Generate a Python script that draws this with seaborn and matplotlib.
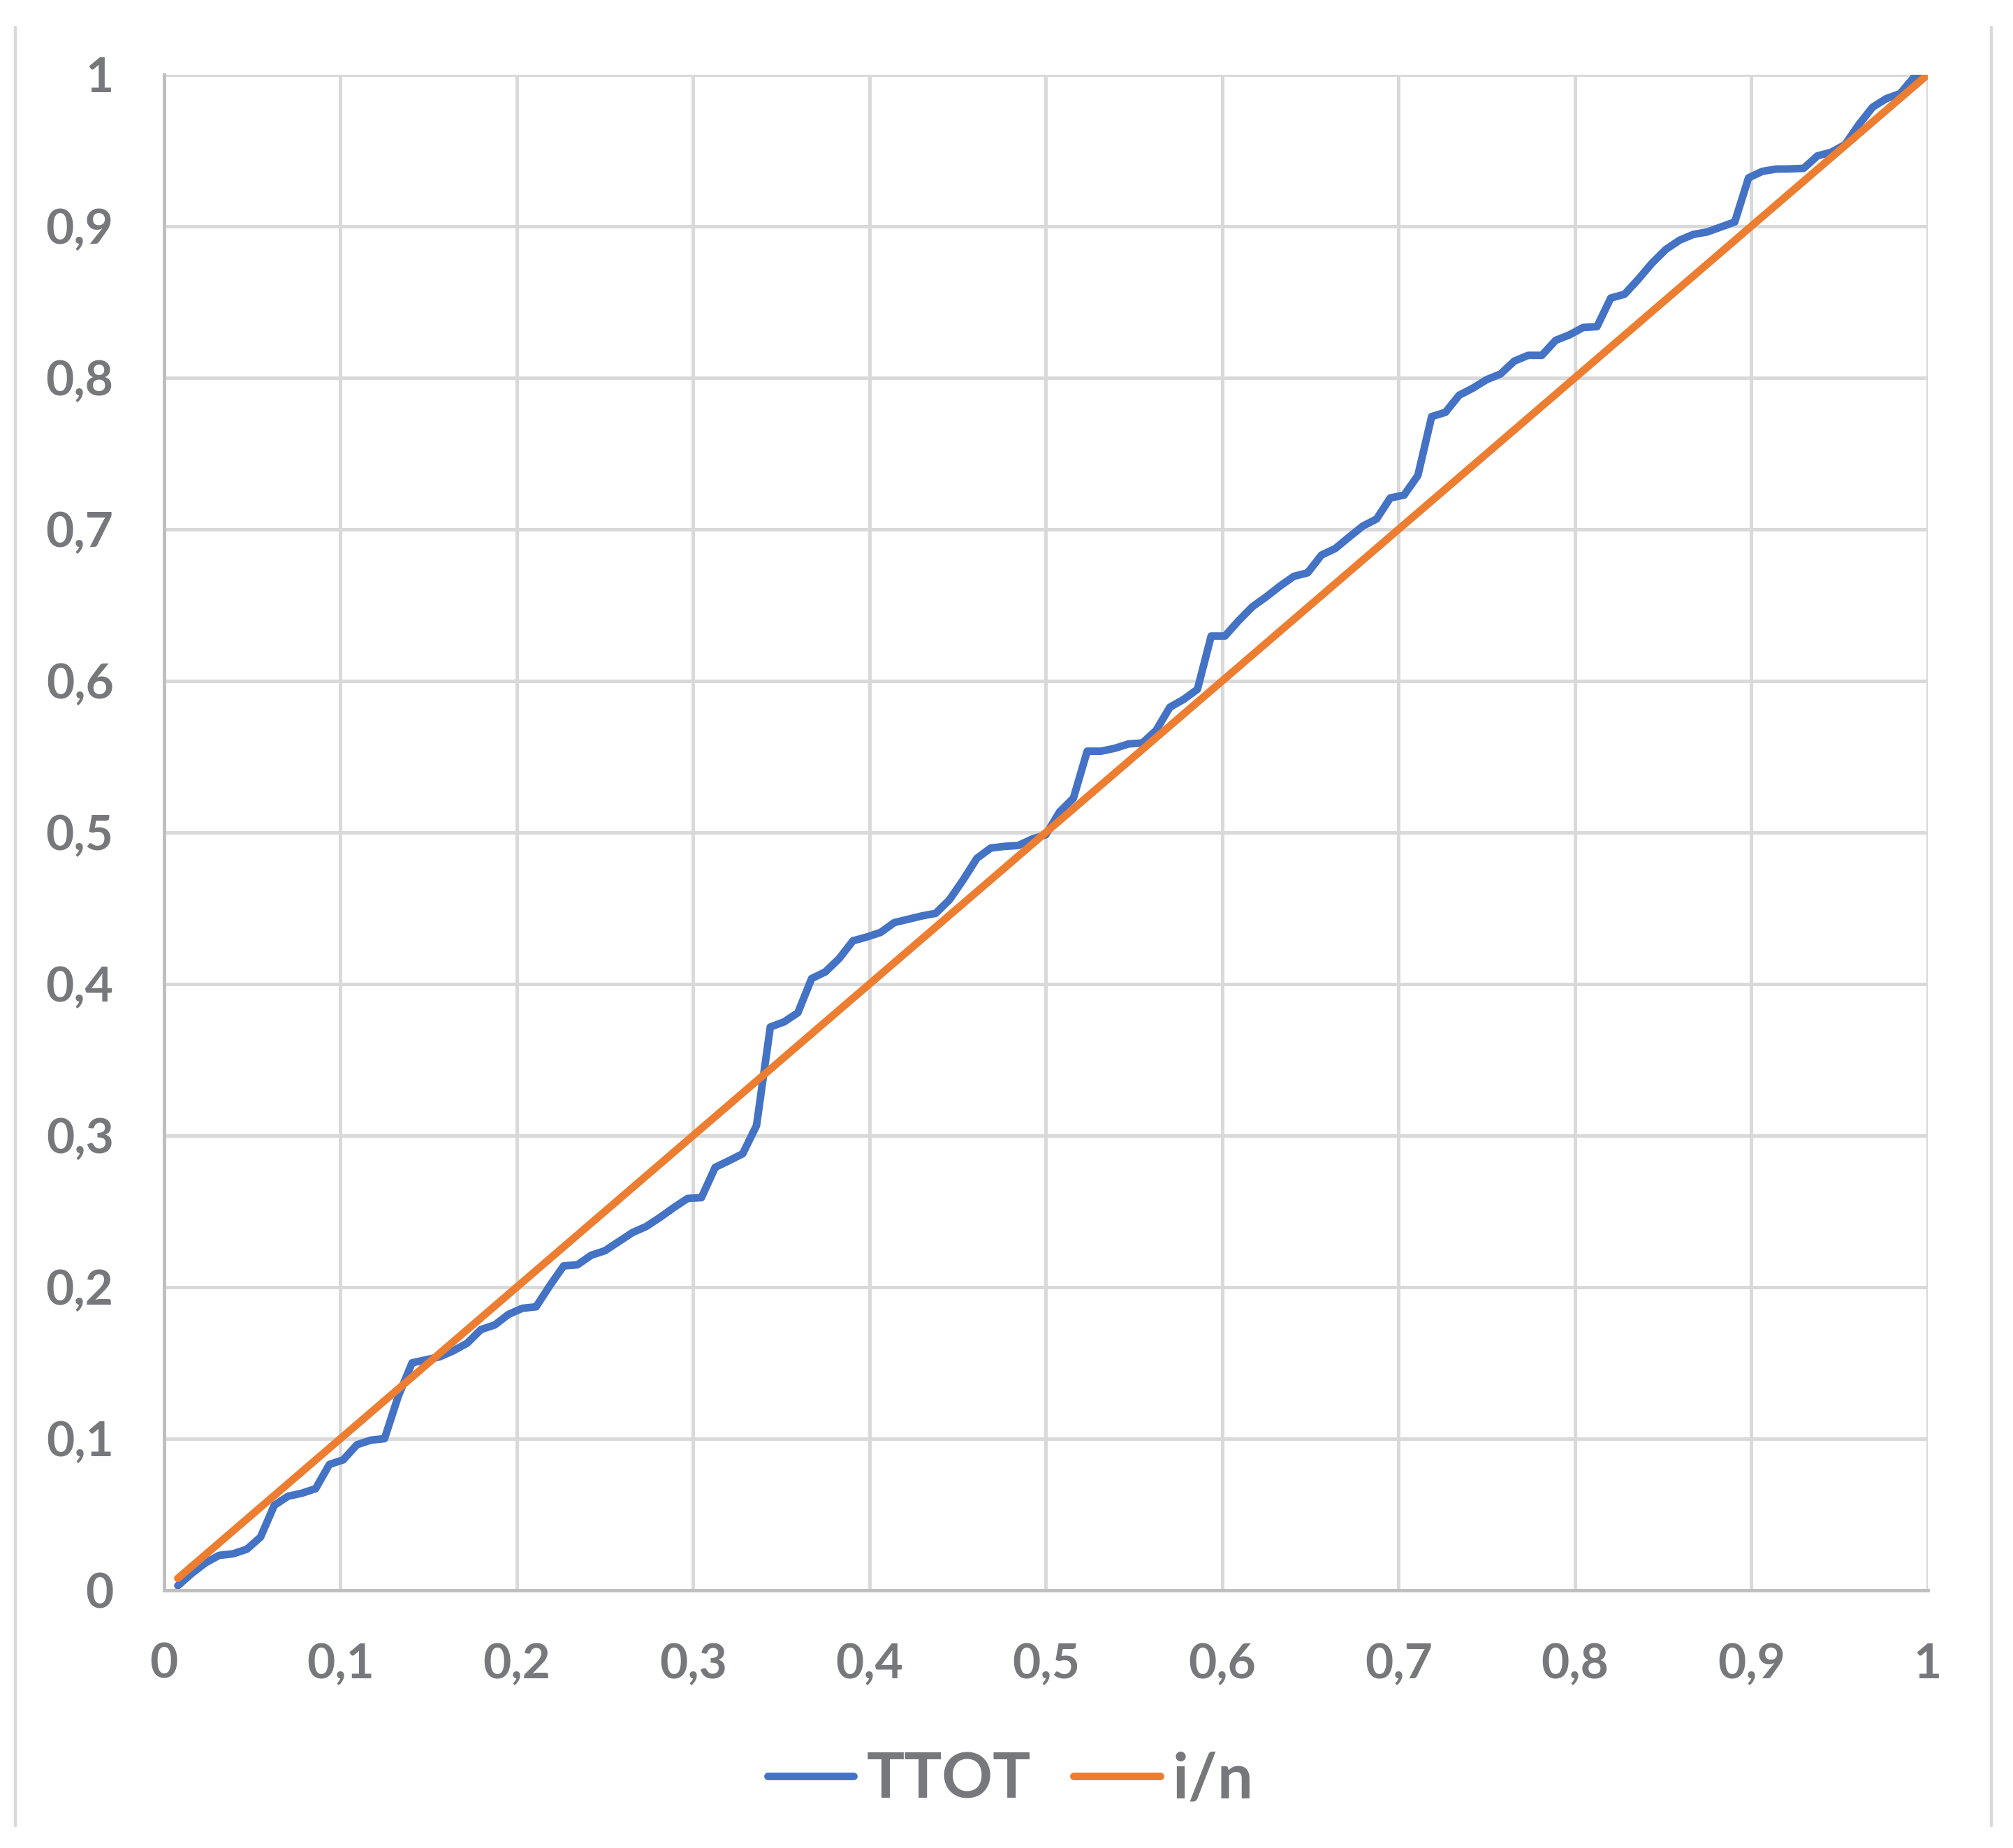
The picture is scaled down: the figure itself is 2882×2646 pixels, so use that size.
import numpy as np
import pandas as pd
import matplotlib
matplotlib.use('Agg')
import matplotlib.pyplot as plt
import seaborn as sns
from matplotlib.lines import Line2D

# P-P plot data: n = 128 ordered observations
n = 128
rank = np.arange(1, n + 1)
i_over_n = rank / n

ttot = [
    0.003, 0.011, 0.018, 0.023, 0.024, 0.027, 0.035, 0.056, 0.062, 0.064,
    0.067, 0.083, 0.086, 0.096, 0.099, 0.100, 0.128, 0.150, 0.152, 0.154,
    0.158, 0.163, 0.172, 0.175, 0.182, 0.186, 0.187, 0.201, 0.214, 0.2147,
    0.221, 0.224, 0.230, 0.236, 0.240, 0.246, 0.2525, 0.2585, 0.259, 0.279,
    0.2834, 0.288, 0.3066, 0.3716, 0.375, 0.381, 0.4036, 0.408, 0.4168, 0.4285,
    0.431, 0.434, 0.4405, 0.4427, 0.4449, 0.4466, 0.4555, 0.4687, 0.483, 0.4897,
    0.4908, 0.4914, 0.4956, 0.4985, 0.5136, 0.5226, 0.5536, 0.5536, 0.5555, 0.5584,
    0.559, 0.5673, 0.5826, 0.5878, 0.5944, 0.6296, 0.6296, 0.6398, 0.649, 0.6555,
    0.6626, 0.669, 0.6713, 0.683, 0.6873, 0.6948, 0.7021, 0.7068, 0.7207, 0.7226,
    0.7355, 0.7744, 0.7772, 0.7885, 0.7932, 0.7988, 0.8025, 0.811, 0.8148, 0.8148,
    0.8247, 0.8283, 0.8332, 0.8337, 0.8526, 0.8551, 0.865, 0.8757, 0.8847, 0.8908,
    0.8946, 0.8962, 0.8995, 0.9028, 0.9319, 0.9362, 0.9377, 0.9378, 0.9382, 0.9464,
    0.9488, 0.9538, 0.967, 0.9785, 0.9842, 0.9875, 0.9982, 1.0,
]

series_names = ['TTOT', 'i/n']
tick_values = [0, 0.1, 0.2, 0.3, 0.4, 0.5, 0.6, 0.7, 0.8, 0.9, 1]
tick_labels = ['0', '0,1', '0,2', '0,3', '0,4', '0,5', '0,6', '0,7', '0,8', '0,9', '1']

df = pd.concat([
    pd.DataFrame({'x': i_over_n, 'y': ttot, 'serie': series_names[0]}),
    pd.DataFrame({'x': i_over_n, 'y': i_over_n, 'serie': series_names[1]}),
])

sns.set_theme(style='whitegrid')
plt.rcParams['font.family'] = ['Lato', 'DejaVu Sans']

text_col = '#77787C'
grid_col = '#D9D9D9'
spine_col = '#BFBFBF'
palette = {'TTOT': '#4472C4', 'i/n': '#ED7D31'}
lw = 3.9

fig = plt.figure(figsize=(14.41, 13.23), dpi=200)
ax = fig.add_axes([0.0815, 0.1395, 0.8761, 0.8201])

sns.lineplot(data=df, x='x', y='y', hue='serie', palette=palette, ax=ax,
             linewidth=lw, legend=False, solid_capstyle='round',
             solid_joinstyle='round')

ax.set_xlim(0, 1)
ax.set_ylim(0, 1)
ax.set_xticks(tick_values)
ax.set_xticklabels(tick_labels)
ax.set_yticks(tick_values)
ax.set_yticklabels(tick_labels)
ax.set_xlabel('')
ax.set_ylabel('')

ax.grid(True, color=grid_col, linewidth=1.8)
ax.set_axisbelow(True)
ax.tick_params(axis='both', length=0, labelsize=25, labelcolor=text_col)
ax.tick_params(axis='y', pad=26)
ax.tick_params(axis='x', pad=27)
for lab in ax.get_xticklabels() + ax.get_yticklabels():
    lab.set_fontweight('bold')

for side in ['top', 'right']:
    ax.spines[side].set_visible(False)
for side in ['left', 'bottom']:
    ax.spines[side].set_color(spine_col)
    ax.spines[side].set_linewidth(1.8)

# legend below the plot
handles = [Line2D([0], [0], color=palette[s], linewidth=lw, solid_capstyle='round')
           for s in series_names]
leg = fig.legend(handles, series_names, loc='center', bbox_to_anchor=(0.502, 0.037),
                 ncol=2, frameon=False, fontsize=32.5, labelcolor=text_col,
                 handlelength=1.37, handletextpad=0.2, columnspacing=0.68)
for t in leg.get_texts():
    t.set_fontweight('bold')

# chart area border (only left and right edges visible)
fig.add_artist(Line2D([0.0076, 0.0076], [0.0121, 0.9853], color=grid_col,
                      linewidth=1.6, transform=fig.transFigure))
fig.add_artist(Line2D([0.9893, 0.9893], [0.0121, 0.9853], color=grid_col,
                      linewidth=1.6, transform=fig.transFigure))

fig.savefig('out.png', dpi=200, facecolor='white')
